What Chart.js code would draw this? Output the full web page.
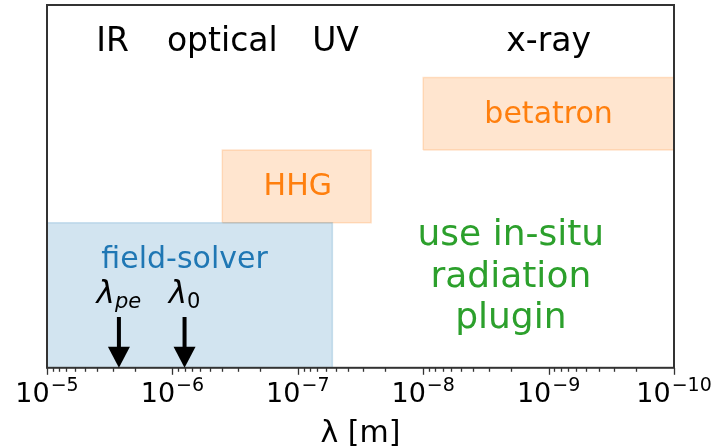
<!DOCTYPE html>
<html>
<head>
<meta charset="utf-8">
<script src="https://cdn.jsdelivr.net/npm/chart.js@4.4.1/dist/chart.umd.min.js"></script>
<style>
body{margin:0;background:#fff;}
</style>
</head>
<body>
<canvas id="chart" width="724" height="446"></canvas>
<script>
// simulation regions: wavelength span [m] and height span (0..1)
const regionNames = ["field-solver", "HHG", "betatron"];
const regionX = [[1e-5, 5.3e-8], [4e-7, 2.6e-8], [1e-8, 1e-10]];
const regionY = [[0, 0.4], [0.4, 0.6], [0.6, 0.8]];
const regionRgb = ["31,119,180", "255,127,14", "255,127,14"];
const regionLabelX = [8e-7, 1e-7, 1e-9];
const regionLabelY = [0.274, 0.475, 0.675];

// spectral bands along the top
const bandNames = ["IR", "optical", "UV", "x-ray"];
const bandX = [3e-6, 4e-7, 5e-8, 1e-9];
const bandY = 0.874;

// radiation plugin note
const pluginLines = ["use in-situ", "radiation", "plugin"];
const pluginX = 2e-9;
const pluginY = 0.223;

// plasma and laser wavelengths
const markerSubs = ["pe", "0"];
const markerX = [2.67e-6, 8e-7];
const markerLabelY = 0.179;
const arrowFrom = 0.14;
const arrowTo = 0;

// decades shown on the axis
const tickExps = [-5, -6, -7, -8, -9, -10];

const FONT = "'DejaVu Sans', sans-serif";
const blue = "#1f77b4", orange = "#ff7f0e", green = "#2ca02c";
const labelColors = [blue, orange, orange];

function rect(xs, ys) {
  return [
    {x: xs[0], y: ys[0]}, {x: xs[1], y: ys[0]},
    {x: xs[1], y: ys[1]}, {x: xs[0], y: ys[1]},
    {x: xs[0], y: ys[0]}
  ];
}

function axisTicks() {
  let t = tickExps.map(e => ({value: Number("1e" + e), major: true}));
  for (let e = -10; e < -5; e++) {
    for (let k = 2; k <= 9; k++) t.push({value: Number(k + "e" + e), major: false});
  }
  return t.sort((a, b) => a.value - b.value);
}

const overlay = {
  id: "overlay",
  afterDatasetsDraw(chart) {
    const {ctx, chartArea: a, scales: {x, y}} = chart;
    ctx.save();

    // frame
    ctx.strokeStyle = "#333";
    ctx.lineWidth = 2;
    ctx.strokeRect(a.left, a.top, a.right - a.left, a.bottom - a.top);

    // tick marks
    ctx.lineWidth = 1.3;
    x.ticks.forEach(t => {
      const px = Math.round(x.getPixelForValue(t.value)) + 0.5;
      ctx.beginPath();
      ctx.moveTo(px, a.bottom);
      ctx.lineTo(px, a.bottom + (t.major ? 7 : 4));
      ctx.stroke();
    });

    // tick labels 10^n
    ctx.fillStyle = "#000";
    ctx.textBaseline = "alphabetic";
    ctx.textAlign = "left";
    x.ticks.filter(t => t.major).forEach(t => {
      const ex = "\u2212" + Math.abs(Math.round(Math.log10(t.value)));
      ctx.font = "27px " + FONT;
      const w1 = ctx.measureText("10").width;
      ctx.font = "19px " + FONT;
      const w2 = ctx.measureText(ex).width;
      const left = x.getPixelForValue(t.value) - (w1 + w2 + 1) / 2;
      ctx.font = "27px " + FONT;
      ctx.fillText("10", left, a.bottom + 34.5);
      ctx.font = "19px " + FONT;
      ctx.fillText(ex, left + w1 + 1, a.bottom + 23);
    });

    ctx.textAlign = "center";

    // band names
    ctx.font = "33px " + FONT;
    ctx.fillStyle = "#000";
    bandNames.forEach((n, i) => ctx.fillText(n, x.getPixelForValue(bandX[i]), y.getPixelForValue(bandY)));

    // region names
    ctx.font = "30px " + FONT;
    regionNames.forEach((n, i) => {
      ctx.fillStyle = labelColors[i];
      ctx.fillText(n, x.getPixelForValue(regionLabelX[i]), y.getPixelForValue(regionLabelY[i]));
    });

    // plugin note
    ctx.font = "36px " + FONT;
    ctx.fillStyle = green;
    const gx = x.getPixelForValue(pluginX), gy = y.getPixelForValue(pluginY);
    pluginLines.forEach((l, i) => ctx.fillText(l, gx, gy + (i - 1) * 41.5));

    // arrows with lambda labels
    ctx.fillStyle = "#000";
    markerX.forEach((v, i) => {
      const px = x.getPixelForValue(v);
      const top = y.getPixelForValue(arrowFrom), tip = y.getPixelForValue(arrowTo);
      const hh = 21, hw = 22;
      ctx.fillRect(px - 2, top, 4, tip - hh - top + 1);
      ctx.beginPath();
      ctx.moveTo(px - hw / 2, tip - hh);
      ctx.lineTo(px + hw / 2, tip - hh);
      ctx.lineTo(px, tip);
      ctx.closePath();
      ctx.fill();

      const sub = markerSubs[i];
      const subFont = (/\d/.test(sub) ? "" : "italic ") + "21px " + FONT;
      ctx.font = "italic 31px " + FONT;
      const wl = ctx.measureText("\u03bb").width;
      ctx.font = subFont;
      const ws = ctx.measureText(sub).width;
      const left = px - (wl + ws) / 2;
      const by = y.getPixelForValue(markerLabelY);
      ctx.textAlign = "left";
      ctx.font = "italic 31px " + FONT;
      ctx.fillText("\u03bb", left, by);
      ctx.font = subFont;
      ctx.fillText(sub, left + wl, by + 5);
      ctx.textAlign = "center";
    });

    ctx.restore();
  }
};

new Chart(document.getElementById("chart"), {
  type: "scatter",
  data: {
    datasets: regionNames.map((n, i) => ({
      label: n,
      data: rect(regionX[i], regionY[i]),
      showLine: true,
      fill: "shape",
      backgroundColor: "rgba(" + regionRgb[i] + ",0.2)",
      borderColor: "rgba(" + regionRgb[i] + ",0.2)",
      borderWidth: 1.5,
      pointRadius: 0,
      tension: 0
    }))
  },
  options: {
    responsive: false,
    animation: false,
    layout: {padding: {left: 47, right: 50, top: 5, bottom: 0}},
    plugins: {legend: {display: false}, tooltip: {enabled: false}},
    scales: {
      x: {
        type: "logarithmic",
        reverse: true,
        min: 1e-10,
        max: 1e-5,
        afterBuildTicks: s => { s.ticks = axisTicks(); },
        ticks: {
          autoSkip: false,
          maxRotation: 0,
          padding: 3,
          color: "rgba(0,0,0,0)",
          font: {size: 26, family: FONT},
          callback: (v, i, t) => t[i].major ? "10" : ""
        },
        grid: {display: true, drawOnChartArea: false, tickLength: 7, tickColor: "rgba(0,0,0,0)"},
        border: {display: false},
        title: {
          display: true,
          text: "\u03bb [m]",
          color: "#000",
          font: {size: 30, family: FONT},
          padding: {top: 4, bottom: -6}
        }
      },
      y: {min: 0, max: 1, display: false}
    }
  },
  plugins: [overlay]
});
</script>
</body>
</html>
